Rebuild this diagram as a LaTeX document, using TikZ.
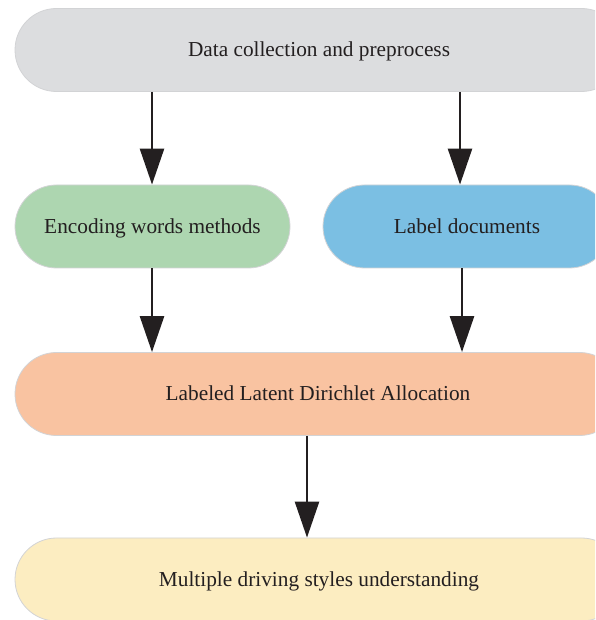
\documentclass[tikz,border=0pt]{standalone}
\usepackage{fontspec}
\setmainfont{Liberation Serif}
\usetikzlibrary{arrows.meta,calc}
\definecolor{txt}{HTML}{231F20}
\definecolor{cgray}{HTML}{DCDDDF}
\definecolor{cgreen}{HTML}{ADD6B0}
\definecolor{cblue}{HTML}{7BBFE3}
\definecolor{corange}{HTML}{F9C3A1}
\definecolor{cyellow}{HTML}{FCEDC1}
\definecolor{cborder}{HTML}{D2D3D5}
\tikzset{
  pill/.style={draw=cborder, line width=0.8pt, rectangle, rounded corners=41.5pt,
    minimum height=83pt, inner sep=0pt, text=txt,
    text height=14pt, text depth=0pt,
    font=\fontsize{21.3}{25}\selectfont},
  arr/.style={draw=txt, line width=2.6pt, -{Triangle[length=36pt,width=24pt]}}
}
\begin{document}
\begin{tikzpicture}[x=1pt,y=1pt]
\useasboundingbox (0,0) rectangle (595,620);
\clip (0,0) rectangle (595,620);
\node[pill, fill=cgray, minimum width=608pt] (top) at (319,570) {Data collection and preprocess};
\node[pill, fill=cgreen, minimum width=275pt] (enc) at (152.5,393.5) {Encoding words methods};
\node[pill, fill=cblue, minimum width=288pt] (lab) at (467,393.5) {Label documents};
\node[pill, fill=corange, minimum width=606pt] (llda) at (318,226) {Labeled Latent Dirichlet Allocation};
\node[pill, fill=cyellow, minimum width=608pt] (mult) at (319,40.5) {Multiple driving styles understanding};
\draw[arr] (top.south -| 152,0) -- (enc.north -| 152,0);
\draw[arr] (top.south -| 460,0) -- (lab.north -| 460,0);
\draw[arr] (enc.south -| 152,0) -- (llda.north -| 152,0);
\draw[arr] (lab.south -| 462,0) -- (llda.north -| 462,0);
\draw[arr] (llda.south -| 307,0) -- (mult.north -| 307,0);
\end{tikzpicture}
\end{document}
